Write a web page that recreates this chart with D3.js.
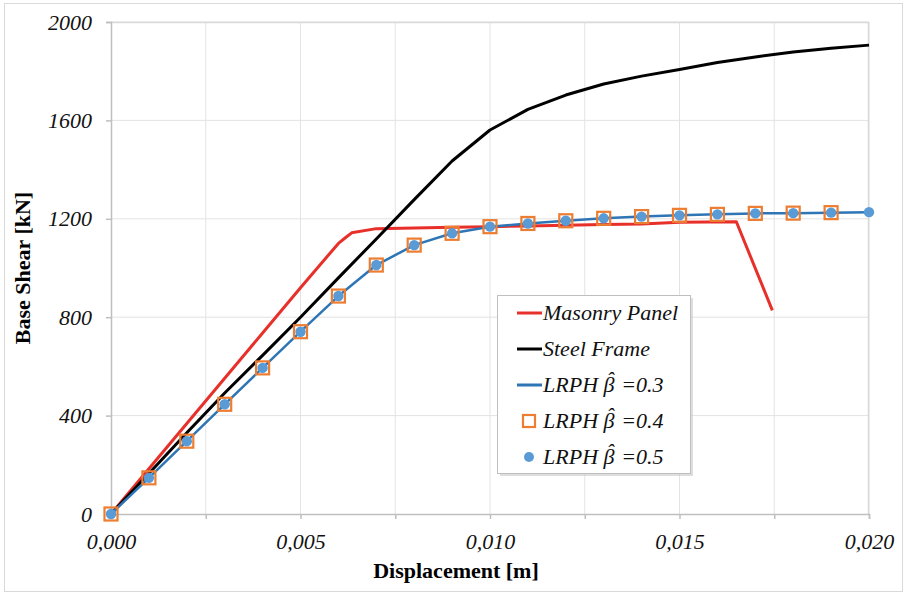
<!DOCTYPE html>
<html>
<head>
<meta charset="utf-8">
<script src="https://cdn.jsdelivr.net/npm/d3@7"></script>
<style>
  body { margin: 0; background: #fff; }
  svg { display: block; }
</style>
</head>
<body>
<div id="chart-area"></div>
<script>
// data
const dispSteel  = [0, 0.001, 0.002, 0.003, 0.004, 0.005, 0.006, 0.007, 0.008, 0.009, 0.010,
                    0.011, 0.012, 0.013, 0.014, 0.015, 0.016, 0.017, 0.018, 0.019, 0.020];
const shearSteel = [0, 165, 330, 492, 645, 800, 960, 1118, 1278, 1435, 1561,
                    1645, 1703, 1748, 1780, 1807, 1835, 1858, 1878, 1893, 1906];

const dispMasonry  = [0, 0.001, 0.002, 0.003, 0.004, 0.005, 0.006, 0.0062, 0.00635, 0.007,
                      0.008, 0.009, 0.010, 0.011, 0.012, 0.013, 0.014, 0.015, 0.0165, 0.01745];
const shearMasonry = [0, 184, 368, 552, 736, 920, 1100, 1125, 1143, 1160,
                      1163, 1166, 1168, 1171, 1174, 1177, 1179, 1186, 1188, 828];

const dispLrph    = [0, 0.001, 0.002, 0.003, 0.004, 0.005, 0.006, 0.007, 0.008, 0.009, 0.010,
                     0.011, 0.012, 0.013, 0.014, 0.015, 0.016, 0.017, 0.018, 0.019, 0.020];
const shearLrph03 = [0, 147, 296, 446, 594, 741, 886, 1012, 1093, 1141, 1168,
                     1181, 1192, 1202, 1209, 1214, 1218, 1222, 1223, 1225, 1227];
const shearLrph04 = [0, 147, 296, 446, 594, 741, 886, 1012, 1093, 1141, 1168,
                     1181, 1192, 1202, 1209, 1214, 1218, 1222, 1223, 1225];
const shearLrph05 = [0, 147, 296, 446, 594, 741, 886, 1012, 1093, 1141, 1168,
                     1181, 1192, 1202, 1209, 1214, 1218, 1222, 1223, 1225, 1227];

const xLabels = [0, 0.005, 0.010, 0.015, 0.020];
const yLabels = [0, 400, 800, 1200, 1600, 2000];
const legendNames = ["Masonry Panel", "Steel Frame", "LRPH \u03B2\u02C6 =0.3", "LRPH \u03B2\u02C6 =0.4", "LRPH \u03B2\u02C6 =0.5"];

const W = 907, H = 596;
const margin = {top: 22, right: 38, bottom: 82, left: 111},
      width = W - margin.left - margin.right,
      height = H - margin.top - margin.bottom;

const red = "#e8302a", blue = "#2e75b6", dot = "#5b9bd5", orange = "#ed7d31";
const serif = "'Liberation Serif', 'Times New Roman', serif";

const svg = d3.select('#chart-area').append('svg')
  .attr('width', W)
  .attr('height', H)

svg.append('rect')
  .attr('x', 4.5).attr('y', 3.5)
  .attr('width', W - 9).attr('height', H - 8)
  .attr('fill', '#fff')
  .attr('stroke', '#d9d9d9')

const g = svg.append('g')
  .attr("transform", `translate(${margin.left}, ${margin.top})`)

const x = d3.scaleLinear().domain([0, 0.02]).range([0, width]);
const y = d3.scaleLinear().domain([0, 2000]).range([height, 0]);

const commaFmt = d3.formatLocale({decimal: ",", thousands: ".", grouping: [3], currency: ["", ""]}).format(".3f");

// grid
const xGrid = d3.range(0, 0.02001, 0.0025);
g.append('g').selectAll('line').data(xGrid.slice(1)).enter().append('line')
  .attr('x1', d => x(d)).attr('x2', d => x(d))
  .attr('y1', 0).attr('y2', height)
  .attr('stroke', '#e3e3e3').attr('stroke-width', 1)
g.append('g').selectAll('line').data(yLabels.slice(1)).enter().append('line')
  .attr('x1', 0).attr('x2', width)
  .attr('y1', d => y(d)).attr('y2', d => y(d))
  .attr('stroke', '#e3e3e3').attr('stroke-width', 1)

// frame top/right
g.append('path')
  .attr('d', `M0,0.5H${width - 0.5}V${height}`)
  .attr('fill', 'none').attr('stroke', '#d9d9d9').attr('stroke-width', 1.5)

// axes
g.append('g')
  .attr('transform', `translate(0, ${height})`)
  .call(d3.axisBottom(x).tickValues(xGrid).tickSize(5).tickPadding(14)
    .tickFormat(d => xLabels.some(v => Math.abs(v - d) < 1e-9) ? commaFmt(d) : ""))
g.append('g')
  .call(d3.axisLeft(y).tickValues(yLabels).tickSize(5).tickPadding(14).tickFormat(d3.format("d")))

g.selectAll('.domain, .tick line').attr('stroke', '#bfbfbf').attr('stroke-width', 1.5)
g.selectAll('.tick text')
  .attr('font-family', serif).attr('font-style', 'italic')
  .attr('font-size', 22).attr('fill', '#111')

// axis titles
svg.append('text')
  .attr('x', 456).attr('y', 578)
  .attr('text-anchor', 'middle')
  .attr('font-family', serif).attr('font-weight', 'bold').attr('font-size', 22)
  .text('Displacement [m]')
svg.append('text')
  .attr('transform', `translate(30, ${margin.top + height / 2}) rotate(-90)`)
  .attr('text-anchor', 'middle')
  .attr('font-family', serif).attr('font-weight', 'bold').attr('font-size', 22)
  .text('Base Shear [kN]')

// lines
const line = d3.line().x(d => x(d[0])).y(d => y(d[1]));
const pairs = (xs, ys) => ys.map((v, i) => [xs[i], v]);

g.append('path').datum(pairs(dispMasonry, shearMasonry))
  .attr('d', line).attr('fill', 'none').attr('stroke', red).attr('stroke-width', 3)
  .attr('stroke-linejoin', 'round')
g.append('path').datum(pairs(dispSteel, shearSteel))
  .attr('d', line).attr('fill', 'none').attr('stroke', '#000').attr('stroke-width', 3)
  .attr('stroke-linejoin', 'round')
g.append('path').datum(pairs(dispLrph, shearLrph03))
  .attr('d', line).attr('fill', 'none').attr('stroke', blue).attr('stroke-width', 2.5)
  .attr('stroke-linejoin', 'round')

// markers
g.append('g').selectAll('rect').data(pairs(dispLrph, shearLrph04)).enter().append('rect')
  .attr('x', d => x(d[0]) - 6.5).attr('y', d => y(d[1]) - 6.5)
  .attr('width', 13).attr('height', 13)
  .attr('fill', 'none').attr('stroke', orange).attr('stroke-width', 2.2)
g.append('g').selectAll('circle').data(pairs(dispLrph, shearLrph05)).enter().append('circle')
  .attr('cx', d => x(d[0])).attr('cy', d => y(d[1]))
  .attr('r', 5.2).attr('fill', dot)

// legend
const lg = svg.append('g').attr('transform', 'translate(497, 295)')
lg.append('rect').attr('x', 3).attr('y', 3).attr('width', 193).attr('height', 178)
  .attr('fill', '#c8c8c8').attr('opacity', 0.6)
lg.append('rect').attr('x', 0.5).attr('y', 0.5).attr('width', 193).attr('height', 178)
  .attr('fill', '#fff').attr('stroke', '#bfbfbf')

const rowY = d3.range(5).map(i => 18 + i * 36);
// per-character shifts that lift the hat over the beta (chars 6 and 7)
const hatDx = "0 0 0 0 0 0 -7.9 1.8";
const hatDy = "0 0 0 0 0 0 -4.8 4.8";
legendNames.forEach((name, i) => {
  const ry = rowY[i];
  if (i < 3) {
    lg.append('line').attr('x1', 20).attr('x2', 45).attr('y1', ry).attr('y2', ry)
      .attr('stroke', [red, '#000', blue][i]).attr('stroke-width', 3)
  } else if (i === 3) {
    lg.append('rect').attr('x', 26).attr('y', ry - 6).attr('width', 12).attr('height', 12)
      .attr('fill', 'none').attr('stroke', orange).attr('stroke-width', 2.2)
  } else {
    lg.append('circle').attr('cx', 32).attr('cy', ry).attr('r', 5).attr('fill', dot)
  }
  const t = lg.append('text')
    .attr('x', 46).attr('y', ry + 7)
    .attr('font-family', serif).attr('font-style', 'italic').attr('font-size', 22)
    .attr('fill', '#111')
    .text(name)
  if (i >= 2) t.attr('dx', hatDx).attr('dy', hatDy)
})
</script>
</body>
</html>
